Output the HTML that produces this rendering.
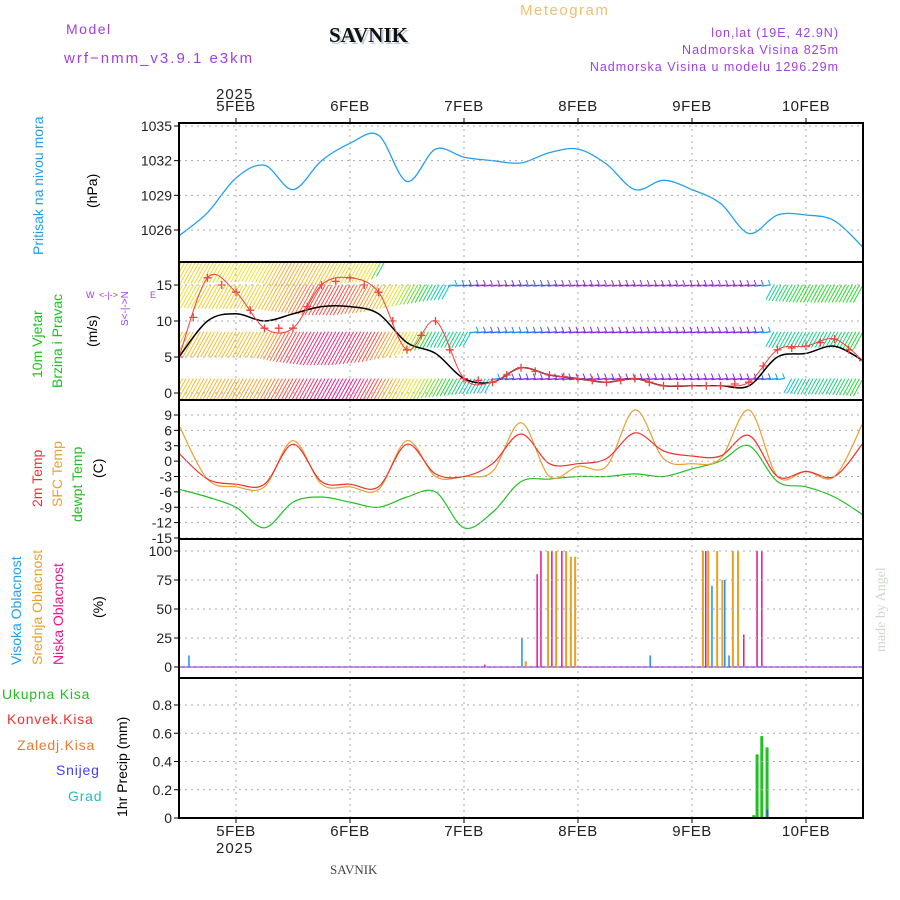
<!DOCTYPE html>
<html><head><meta charset="utf-8"><style>
body{margin:0;background:#fff;}
svg{display:block;font-family:"Liberation Sans",sans-serif;}
</style></head><body>
<svg id="c" width="900" height="900" viewBox="0 0 900 900" xmlns="http://www.w3.org/2000/svg">
<g id="txt">
<text x="66" y="34" font-size="14" fill="#a040e0" letter-spacing="1.5">Model</text>
<text x="64" y="63" font-size="15" fill="#a040e0" letter-spacing="2">wrf−nmm_v3.9.1 e3km</text>
<text x="331" y="44" font-size="21" font-weight="bold" font-family="Liberation Serif,serif" fill="#bcd">SAVNIK</text>
<text x="329" y="42" font-size="21" font-weight="bold" font-family="Liberation Serif,serif" fill="#111">SAVNIK</text>
<text x="520" y="15" font-size="15" fill="#f0c070" letter-spacing="1.5">Meteogram</text>
<text x="839" y="37" font-size="12.5" fill="#a040e0" text-anchor="end" letter-spacing="1">lon,lat (19E, 42.9N)</text>
<text x="839" y="54" font-size="12.5" fill="#a040e0" text-anchor="end" letter-spacing="1">Nadmorska Visina 825m</text>
<text x="839" y="71" font-size="12.5" fill="#a040e0" text-anchor="end" letter-spacing="1">Nadmorska Visina u modelu 1296.29m</text>
<text x="216" y="99" font-size="15" fill="#222" letter-spacing="1">2025</text>
<text x="216" y="853" font-size="15" fill="#222" letter-spacing="1">2025</text>
<text x="330" y="874" font-size="13" font-family="Liberation Serif,serif" fill="#444">SAVNIK</text>
<text transform="translate(885,652) rotate(-90)" font-size="14" font-family="Liberation Serif,serif" fill="#cdd8cd">made by Angel</text>
<text transform="translate(43,255) rotate(-90)" font-size="14" fill="#20a0f0">Pritisak na nivou mora</text>
<text transform="translate(97,208) rotate(-90)" font-size="14" fill="#000">(hPa)</text>
<text transform="translate(42,378) rotate(-90)" font-size="14" fill="#20c020">10m Vjetar</text>
<text transform="translate(62,388) rotate(-90)" font-size="14" fill="#20c020">Brzina i Pravac</text>
<text transform="translate(97,347) rotate(-90)" font-size="14" fill="#000">(m/s)</text>
<text transform="translate(128,326) rotate(-90)" font-size="10" fill="#a040e0">S&lt;-|-&gt;N</text>
<text x="86" y="298" font-size="9" fill="#a040e0">W</text>
<text x="150" y="298" font-size="9" fill="#a040e0">E</text>
<text x="99" y="298" font-size="9" fill="#a040e0">&lt;-|-&gt;</text>
<text transform="translate(42,507) rotate(-90)" font-size="14" fill="#f03030">2m Temp</text>
<text transform="translate(62,507) rotate(-90)" font-size="14" fill="#e8a030">SFC Temp</text>
<text transform="translate(82,522) rotate(-90)" font-size="14" fill="#20c020">dewpt Temp</text>
<text transform="translate(103,478) rotate(-90)" font-size="14" fill="#000">(C)</text>
<text transform="translate(21,665) rotate(-90)" font-size="14" fill="#20a0f0">Visoka Oblacnost</text>
<text transform="translate(42,665) rotate(-90)" font-size="14" fill="#e8a030">Srednja Oblacnost</text>
<text transform="translate(63,665) rotate(-90)" font-size="14" fill="#f01090">Niska Oblacnost</text>
<text transform="translate(103,618) rotate(-90)" font-size="14" fill="#000">(%)</text>
<text x="2" y="699" font-size="14" fill="#20c020" letter-spacing="0.8">Ukupna Kisa</text>
<text x="7" y="724" font-size="14" fill="#f03030" letter-spacing="0.8">Konvek.Kisa</text>
<text x="17" y="750" font-size="14" fill="#f07830" letter-spacing="0.8">Zaledj.Kisa</text>
<text x="56" y="775" font-size="14" fill="#4040f0" letter-spacing="0.8">Snijeg</text>
<text x="68" y="801" font-size="14" fill="#20c0c0" letter-spacing="0.8">Grad</text>
<text transform="translate(127,817) rotate(-90)" font-size="14" fill="#000">1hr Precip (mm)</text>
</g>
</svg>
<script>
const days=['5FEB','6FEB','7FEB','8FEB','9FEB','10FEB'];
const dayHours=[12,36,60,84,108,132];
const hours6=[0,6,12,18,24,30,36,42,48,54,60,66,72,78,84,90,96,102,108,114,120,126,132,138,144];
const pressure=[1025.5,1027.5,1030.5,1031.6,1029.5,1032,1033.5,1034.2,1030.2,1033,1032.3,1032,1031.8,1032.7,1033,1031.7,1029.5,1030.3,1029.5,1028.3,1025.7,1027.3,1027.3,1026.8,1024.5];
const windSpeed=[5,10,11,10,11,12,12,11,7,5.5,2,1.5,3.5,2.5,2,1.5,2,1,1,1,1,5,5.5,6.5,4.5];
const windGust=[5,16,14,9,9,15,16,14,6,10,2,1.5,3.5,2.5,2,1.5,2,1,1,1,1.5,6,6.5,7.5,4.5];
const upperSpeed=[14,15,15,15,17,19,19,17,13,10,8,4,6,7,4,4,4,5,4,4,4,10,11,11,11];
const midSpeed=[16,16,16,16,19,21,21,19,15,10,10,7,8,7,5,4,4,5,4,4,4,10,10,10,11];
const lowSpeed=[16,16,17,17,19,21,22,19,15,12,10,9,6,5,5,4,4,4,4,4,4,8,10,10,11];
const topSpeed=[15,15,14,14,17,16,15,14,0,0,0,0,0,0,0,0,0,0,0,0,0,0,0,0,0];
const temp2m=[1.5,-3.5,-4.5,-4.5,3.3,-4,-4.5,-5,3.3,-2.5,-3,-0.5,5.3,-0.5,-0.5,0.5,5.5,2,1,1,5,-3,-2,-3,3.5];
const tempSfc=[7,-3.5,-5,-5,4,-4.5,-5,-5.5,4,-3,-3,-2,7.5,-3,-1,-1,10,0.5,-0.5,0.5,10,-3,-2,-3,7.5];
const dewpt=[-5.5,-7,-9,-13,-8,-7,-8,-9,-7,-6,-13,-10,-4,-3.5,-3,-3,-2.5,-3,-1.5,0,3,-4,-5,-7,-10.5];
const highHours=[2.1,72.2,99.2,112.2,114.9,115.8];
const highVals=[10,25,10,70,75,10];
const midHours=[73,77.7,79.4,81.5,82.5,83.4,110.3,111.4,113.3,114.4,116.6,117.7];
const midVals=[5,100,100,100,95,95,100,100,100,75,100,100];
const lowHours=[64.4,75.4,76.2,78.5,80.6,110.9,118.9,121.7,122.7];
const lowVals=[2,80,100,100,100,100,28,100,100];
const precipHours=[121,121.7,122.7,123.8];
const precipVals=[0.02,0.45,0.58,0.5];
const snowHours=[123.9];
const snowVals=[0.06];
const pTicks=[1026,1029,1032,1035];
const wTicks=[0,5,10,15];
const tTicks=[-15,-12,-9,-6,-3,0,3,6,9];
const cTicks=[0,25,50,75,100];
const prTicks=[0,0.2,0.4,0.6,0.8];

const NS='http://www.w3.org/2000/svg';
const svg=document.getElementById('c');
const X0=179,X1=863;
const xs=h=>X0+(X1-X0)*h/144;
function mk(tag,at,parent){const e=document.createElementNS(NS,tag);for(const k in at)e.setAttribute(k,at[k]);(parent||svg).appendChild(e);return e;}
function scale(v0,v1,y0,y1){return v=>y0+(v-v0)*(y1-y0)/(v1-v0);}
const panels=[
 {top:123,bot:262,s:scale(1026,1035,230,126),ticks:pTicks,name:'pressure-panel'},
 {top:262,bot:400,s:scale(0,15,393,285),ticks:wTicks,name:'wind-panel'},
 {top:400,bot:539,s:scale(-15,9,538,415),ticks:tTicks,name:'temperature-panel'},
 {top:539,bot:678,s:scale(0,100,667,551),ticks:cTicks,name:'cloud-panel'},
 {top:678,bot:818,s:scale(0,0.8,818,705),ticks:prTicks,name:'precip-panel'}];
panels.forEach((p,i)=>{
 const g=mk('g',{});
 
 
 const cp=mk('clipPath',{id:'cp'+i},g);mk('rect',{x:X0,y:p.top,width:X1-X0,height:p.bot-p.top},cp);
 p.g=mk('g',{'clip-path':'url(#cp'+i+')'},g);
 dayHours.forEach(h=>mk('line',{x1:xs(h),x2:xs(h),y1:p.top,y2:p.bot,stroke:'#aaa','stroke-dasharray':'2,4'},g));
 p.ticks.forEach(t=>{const y=p.s(t);
  if(i!==4||t>0) mk('line',{x1:X0,x2:X1,y1:y,y2:y,stroke:'#aaa','stroke-dasharray':'2,4'},g);
  mk('line',{x1:X0-5,x2:X0,y1:y,y2:y,stroke:'#000'},g);
  const tx=mk('text',{x:X0-7,y:y+5,'font-size':14,'text-anchor':'end',fill:'#222'},g);
  tx.textContent=(i===4)?(t===0?'0':t.toFixed(1)):String(t);
  
  
 });
});
function smoothPath(pts){let d='M'+pts[0][0].toFixed(1)+','+pts[0][1].toFixed(1);
 for(let i=0;i<pts.length-1;i++){const p0=pts[Math.max(0,i-1)],p1=pts[i],p2=pts[i+1],p3=pts[Math.min(pts.length-1,i+2)];
  const c1=[p1[0]+(p2[0]-p0[0])/6,p1[1]+(p2[1]-p0[1])/6],c2=[p2[0]-(p3[0]-p1[0])/6,p2[1]-(p3[1]-p1[1])/6];
  d+=`C${c1[0].toFixed(1)},${c1[1].toFixed(1)} ${c2[0].toFixed(1)},${c2[1].toFixed(1)} ${p2[0].toFixed(1)},${p2[1].toFixed(1)}`;}
 return d;}
function line(p,hrs,vals,color,w,name){
 const d=smoothPath(vals.map((v,k)=>[xs(hrs[k]),p.s(v)]));
 const e=mk('path',{d,fill:'none',stroke:color,'stroke-width':w||1.3},p.g);
 
 
}
function interp(arr,h){const i=Math.min(23,Math.floor(h/6));const f=(h-i*6)/6;return arr[i]*(1-f)+arr[i+1]*f;}
function col(s){const stops=[[0,[140,40,230]],[5,[140,40,230]],[7,[60,90,255]],[9,[0,200,230]],[11,[40,220,40]],[14,[240,230,40]],[17,[245,170,50]],[19,[250,80,70]],[22,[240,20,160]]];
 for(let k=0;k<stops.length-1;k++){if(s<=stops[k+1][0]){const a=stops[k],b=stops[k+1];const f=Math.max(0,(s-a[0])/(b[0]-a[0]));return 'rgb('+a[1].map((c,j)=>Math.round(c+(b[1][j]-c)*f)).join(',')+')';}}
 return 'rgb(240,20,160)';}
// pressure
line(panels[0],hours6,pressure,'#20a0f0',1.3,'pressure-line');
// wind barbs hatch
const wp=panels[1];
[[upperSpeed,15,'upper-wind-barbs'],[midSpeed,8.5,'mid-wind-barbs'],[lowSpeed,2,'low-wind-barbs'],[topSpeed,18.5,'top-wind-barbs']].forEach(([arr,lev,nm])=>{
 const g=mk('g',{},wp.g);
 
 
 for(let h=0;h<=144;h+=0.75){const s=interp(arr,h);if(s<=0.5)continue;
  const x=xs(h),y=wp.s(lev);const len=s*0.22*7.2;
  if(s>=9){mk('line',{x1:x,y1:y,x2:x-len*0.55,y2:y+len,stroke:col(s),'stroke-width':1},g);}
  else if(h%1.5===0){mk('line',{x1:x,y1:y,x2:x-9,y2:y+1,stroke:col(s),'stroke-width':1.4},g);
   mk('line',{x1:x,y1:y,x2:x-2,y2:y-5,stroke:col(s),'stroke-width':1},g);}
 }
});
line(wp,hours6,windSpeed,'#000',1.5,'wind-speed-line');
line(wp,hours6,windGust,'#f04040',1,'wind-gust-line');
for(let h=0;h<=144;h+=3){const x=xs(h),y=wp.s(interp(windGust,h));
 const e=mk('path',{d:`M${x-4},${y}h8M${x},${y-4}v8`,stroke:'#f04040','stroke-width':1.3},wp.g);
 
 }
// temps
const tp=panels[2];
line(tp,hours6,dewpt,'#20c020',1.2,'dewpoint-line');
line(tp,hours6,tempSfc,'#e8a030',1.2,'sfc-temp-line');
line(tp,hours6,temp2m,'#f03030',1.2,'temp-2m-line');
// clouds
const cp=panels[3];
mk('line',{x1:X0,x2:X1,y1:cp.s(0),y2:cp.s(0),stroke:'#a050e0','stroke-width':1.5},cp.g);
function bars(p,hrs,vals,color,w,name){hrs.forEach((h,k)=>{const y=p.s(vals[k]),y0=p.s(0);
 const e=mk('rect',{x:xs(h)-w/2,y:Math.min(y,y0),width:w,height:Math.abs(y0-y),fill:color},p.g);
 
 });}
bars(cp,midHours,midVals,'#e8a020',2,'mid-cloud-bar');
bars(cp,lowHours,lowVals,'#f01090',1.5,'low-cloud-bar');
bars(cp,highHours,highVals,'#2090f0',1.5,'high-cloud-bar');
// precip
const pp=panels[4];
bars(pp,precipHours,precipVals,'#20c020',3,'precip-bar');
bars(pp,snowHours,snowVals,'#3050f0',2,'snow-bar');
// frames and day labels
panels.forEach(p=>mk('rect',{x:X0,y:p.top,width:X1-X0,height:p.bot-p.top,fill:'none',stroke:'#000','stroke-width':2},svg));
dayHours.forEach((h,k)=>{
 [[111,'top'],[836,'bottom']].forEach(([y,pos])=>{
  const t=mk('text',{x:xs(h),y:y,'font-size':15,'text-anchor':'middle',fill:'#222','letter-spacing':'0.5'});
  t.textContent=days[k];
  
  
 });
 mk('line',{x1:xs(h),x2:xs(h),y1:118,y2:123,stroke:'#000'});
 mk('line',{x1:xs(h),x2:xs(h),y1:818,y2:823,stroke:'#000'});
});
</script>
</body></html>
